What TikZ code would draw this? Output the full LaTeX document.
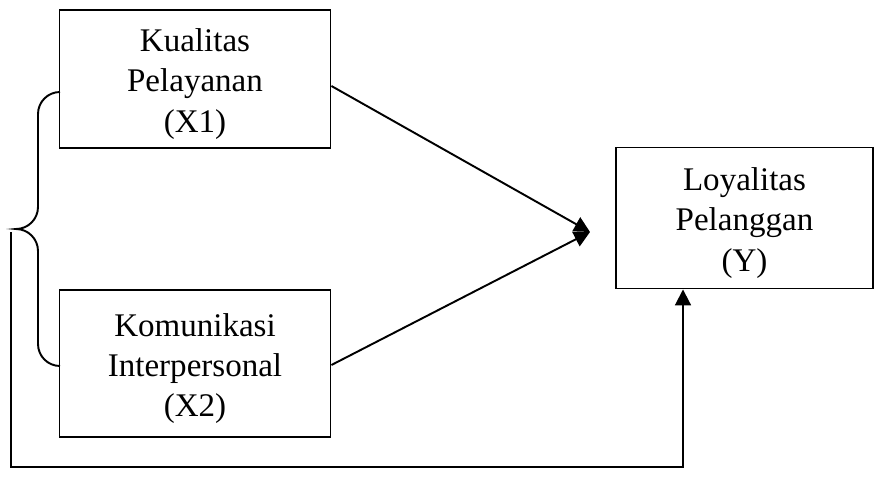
\documentclass[tikz,border=0pt]{standalone}
\usepackage{fontspec}
\setmainfont{Liberation Serif}
\usetikzlibrary{arrows.meta, positioning, calc}

\begin{document}
\begin{tikzpicture}[x=0.02cm, y=-0.02cm, line width=1.1pt,
    var/.style={draw, rectangle, inner sep=0pt},
    lbl/.style={align=center, inner sep=0pt, yshift=-0.1cm,
        font=\fontsize{18.8}{22.8}\selectfont},
    arr/.style={-{Triangle[length=9pt, width=9pt]}}]

\useasboundingbox (0,0) rectangle (875,483);

\node[var, minimum width=5.42cm, minimum height=2.76cm] (x1) at (195,79) {};
\node[var, minimum width=5.42cm, minimum height=2.94cm] (x2) at (195,363.5) {};
\node[var, minimum width=5.14cm, minimum height=2.82cm] (y) at (744.5,218) {};

\node[lbl] (x1t) at (x1.center) {Kualitas\\ Pelayanan\\ (X1)};
\node[lbl] (x2t) at (x2.center) {Komunikasi\\ Interpersonal\\ (X2)};
\node[lbl] (yt) at (y.center) {Loyalitas\\ Pelanggan\\ (Y)};

\coordinate (tip) at (590,232);
\draw[arr] ([yshift=-0.14cm]x1.east) -- (tip);
\draw[arr] ([yshift=-0.03cm]x2.east) -- (tip);

% kurung kurawal
\draw (60,92) arc[start angle=270, end angle=180, radius=22] -- (38,207)
    arc[start angle=0, end angle=90, radius=22] coordinate (brace)
    arc[start angle=270, end angle=360, radius=22] -- (38,344)
    arc[start angle=180, end angle=90, radius=22];

\draw[arr] (11,232) -- (11,467) -| (y.south -| 683,0);

\end{tikzpicture}
\end{document}
